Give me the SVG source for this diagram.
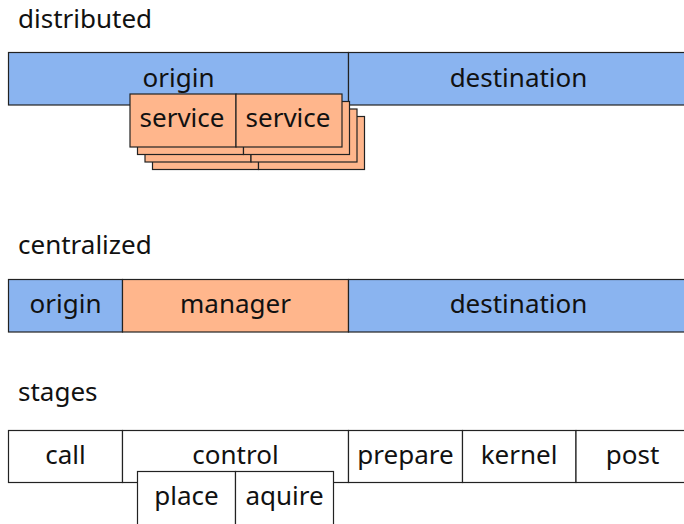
<svg xmlns="http://www.w3.org/2000/svg" width="684" height="524" viewBox="0 0 684 524">
  <style>
    text { font-family: "Noto Sans", "Open Sans", sans-serif; font-size: 26px; fill: #111; }
    .c { text-anchor: middle; }
    rect { stroke: #222; stroke-width: 1.2; }
    .blue { fill: #8ab4f0; }
    .orange { fill: #ffb68c; }
    .white { fill: #ffffff; }
  </style>

  <!-- distributed -->
  <text x="18" y="27.5">distributed</text>
  <g id="dist-origin">
    <rect class="blue" x="8.5" y="52.5" width="340" height="52.5"/>
    <text class="c" x="178.5" y="86.5">origin</text>
  </g>
  <g id="dist-destination">
    <rect class="blue" x="348.5" y="52.5" width="340" height="52.5"/>
    <text class="c" x="518.5" y="86.5">destination</text>
  </g>
  <g id="services">
    <g id="service-stack-3">
      <rect class="orange" x="152.5" y="116.5" width="106" height="53"/>
      <rect class="orange" x="258.5" y="116.5" width="106" height="53"/>
    </g>
    <g id="service-stack-2">
      <rect class="orange" x="145" y="109" width="106" height="53"/>
      <rect class="orange" x="251" y="109" width="106" height="53"/>
    </g>
    <g id="service-stack-1">
      <rect class="orange" x="137.5" y="101.5" width="106" height="53"/>
      <rect class="orange" x="243.5" y="101.5" width="106" height="53"/>
    </g>
    <g id="service-a">
      <rect class="orange" x="130" y="94" width="106" height="53"/>
      <text class="c" x="182" y="127">service</text>
    </g>
    <g id="service-b">
      <rect class="orange" x="236" y="94" width="106" height="53"/>
      <text class="c" x="288" y="127">service</text>
    </g>
  </g>

  <!-- centralized -->
  <text x="18" y="254">centralized</text>
  <g id="cent-origin">
    <rect class="blue" x="8.5" y="279.5" width="114" height="52.5"/>
    <text class="c" x="65.5" y="313">origin</text>
  </g>
  <g id="cent-manager">
    <rect class="orange" x="122.5" y="279.5" width="226" height="52.5"/>
    <text class="c" x="235.5" y="313">manager</text>
  </g>
  <g id="cent-destination">
    <rect class="blue" x="348.5" y="279.5" width="340" height="52.5"/>
    <text class="c" x="518.5" y="313">destination</text>
  </g>

  <!-- stages -->
  <text x="18" y="401">stages</text>
  <g id="stage-call">
    <rect class="white" x="8.5" y="430.5" width="114" height="52"/>
    <text class="c" x="65.5" y="463.5">call</text>
  </g>
  <g id="stage-control">
    <rect class="white" x="122.5" y="430.5" width="226" height="52"/>
    <text class="c" x="235.5" y="463.5">control</text>
  </g>
  <g id="stage-prepare">
    <rect class="white" x="348.5" y="430.5" width="114" height="52"/>
    <text class="c" x="405.5" y="463.5">prepare</text>
  </g>
  <g id="stage-kernel">
    <rect class="white" x="462.5" y="430.5" width="113.5" height="52"/>
    <text class="c" x="519" y="463.5">kernel</text>
  </g>
  <g id="stage-post">
    <rect class="white" x="576" y="430.5" width="112" height="52"/>
    <text class="c" x="632.5" y="463.5">post</text>
  </g>
  <g id="stage-place">
    <rect class="white" x="137.5" y="471.5" width="98" height="60"/>
    <text class="c" x="186.5" y="505">place</text>
  </g>
  <g id="stage-aquire">
    <rect class="white" x="235.5" y="471.5" width="98" height="60"/>
    <text class="c" x="284.5" y="505">aquire</text>
  </g>
</svg>
